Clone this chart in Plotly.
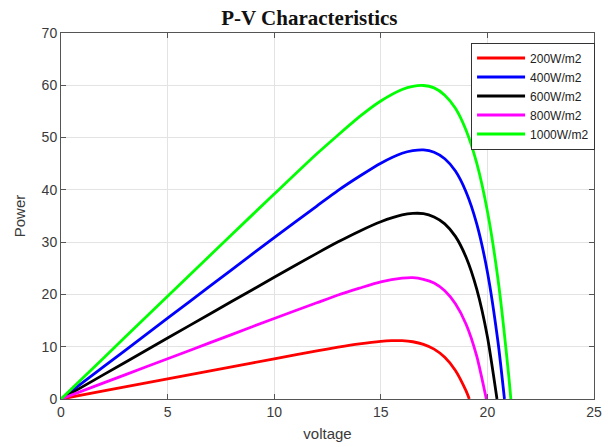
import plotly.graph_objects as go

# Irradiance levels shown in the legend
labels = ["200W/m2", "400W/m2", "600W/m2", "800W/m2", "1000W/m2"]
colors = ["#ff0000", "#0000ff", "#000000", "#ff00ff", "#00ff00"]

# Voltage samples and corresponding power for each curve
v_red = [0, 2, 4, 6, 8, 10, 12, 13, 14, 15, 15.5, 16, 16.5, 17, 17.5, 18, 18.5, 19, 19.15]
p_red = [0, 1.54, 3.08, 4.62, 6.16, 7.69, 9.2, 9.91, 10.55, 11.03, 11.15, 11.15, 10.95, 10.46, 9.54, 7.98, 5.47, 1.55, 0]

v_blue = [0, 2, 4, 6, 8, 10, 12, 13, 14, 15, 16, 16.5, 17, 17.5, 18, 18.5, 19, 19.5, 20, 20.5, 20.8]
p_blue = [0, 6.18, 12.36, 18.54, 24.71, 30.86, 36.9, 39.9, 42.6, 45.1, 47.0, 47.5, 47.65, 47.2, 45.95, 43.6, 39.6, 33.5, 24.3, 10.8, 0]

v_black = [0, 2, 4, 6, 8, 10, 12, 13, 14, 15, 16, 16.5, 17, 17.5, 18, 18.5, 19, 19.5, 20, 20.45]
p_black = [0, 4.66, 9.32, 13.98, 18.63, 23.27, 27.85, 30.06, 32.1, 33.9, 35.2, 35.5, 35.45, 34.8, 33.5, 31.1, 27.1, 21.0, 11.9, 0]

v_magenta = [0, 2, 4, 6, 8, 10, 12, 13, 14, 15, 16, 16.5, 17, 17.5, 18, 18.5, 19, 19.5, 19.95]
p_magenta = [0, 3.08, 6.16, 9.24, 12.32, 15.39, 18.4, 19.9, 21.2, 22.4, 23.1, 23.2, 22.9, 22.2, 20.7, 18.2, 14.3, 8.2, 0]

v_green = [0, 2, 4, 6, 8, 10, 12, 13, 14, 15, 16, 16.5, 17, 17.5, 18, 18.5, 19, 19.5, 20, 20.5, 21, 21.1]
p_green = [0, 7.86, 15.72, 23.58, 31.42, 39.2, 46.9, 50.5, 54.0, 57.0, 59.2, 59.8, 59.96, 59.5, 58.1, 55.6, 51.4, 45.1, 35.9, 22.8, 4.45, 0]

series = [
    (v_red, p_red),
    (v_blue, p_blue),
    (v_black, p_black),
    (v_magenta, p_magenta),
    (v_green, p_green),
]

x_ticks = [0, 5, 10, 15, 20, 25]
y_ticks = [0, 10, 20, 30, 40, 50, 60, 70]

sans = "Liberation Sans, Arial, sans-serif"

fig = go.Figure()
for (vx, py), name, col in zip(series, labels, colors):
    fig.add_trace(go.Scatter(
        x=vx, y=py, mode="lines", name=name,
        line=dict(color=col, width=2.8, shape="spline", smoothing=0.6),
    ))

axis_style = dict(
    showline=True, linecolor="#555555", linewidth=1, mirror="allticks",
    ticks="inside", ticklen=5, tickcolor="#555555",
    showgrid=True, gridcolor="#e3e3e3", gridwidth=1,
    zeroline=False,
    tickfont=dict(family=sans, size=14, color="#3a3a3a"),
)

fig.update_xaxes(range=[0, 25], tickvals=x_ticks, **axis_style,
                 title=dict(text="voltage", standoff=9,
                            font=dict(family=sans, size=15, color="#3a3a3a")))
fig.update_yaxes(range=[0, 70], tickvals=y_ticks, **axis_style,
                 title=dict(text="Power", standoff=12,
                            font=dict(family=sans, size=15, color="#3a3a3a")))

fig.update_layout(
    width=610, height=447,
    margin=dict(l=61, r=8, t=33, b=46),
    paper_bgcolor="white", plot_bgcolor="white",
    title=dict(text="<b>P-V Characteristics</b>", x=0.466, xref="paper", xanchor="center",
               y=0.978, yanchor="top",
               font=dict(family="Liberation Serif, Times New Roman, serif", size=21, color="#111111")),
    legend=dict(x=1.002, xanchor="right", y=0.974, yanchor="top",
                bgcolor="white", bordercolor="#333333", borderwidth=1,
                font=dict(family=sans, size=12, color="#222222"),
                tracegroupgap=0, itemwidth=48),
    showlegend=True,
)

fig.write_html("out.html")
